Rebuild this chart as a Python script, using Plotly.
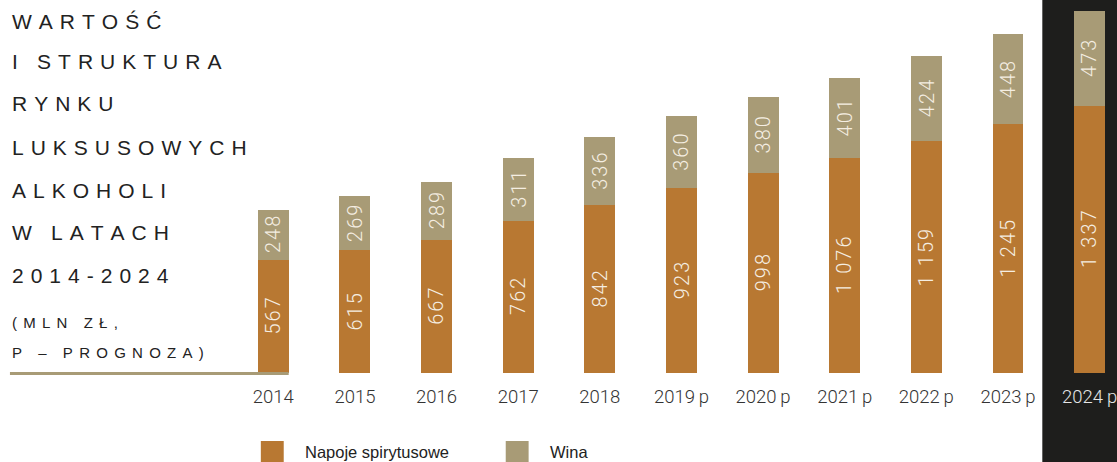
import plotly.graph_objects as go

# Market value of luxury alcohol in Poland, PLN mln (p = forecast)
years = ["2014", "2015", "2016", "2017", "2018", "2019 p", "2020 p",
         "2021 p", "2022 p", "2023 p", "2024 p"]
spirits = [567, 615, 667, 762, 842, 923, 998, 1076, 1159, 1245, 1337]
wines = [248, 269, 289, 311, 336, 360, 380, 401, 424, 448, 473]

title_lines = ["WARTOŚĆ", "I STRUKTURA", "RYNKU", "LUKSUSOWYCH",
               "ALKOHOLI", "W LATACH", "2014-2024"]
subtitle_lines = ["(MLN ZŁ,", "P – PROGNOZA)"]

ORANGE = "#B87832"
TAN = "#A89B76"
DARK = "#1E1E1C"
INK = "#222222"
NUM_FONT = "Roboto, Inter, sans-serif"
TXT_FONT = "Liberation Sans, Arial, sans-serif"

W, H = 1117, 462
PLOT_H = 373          # pixel height of plotting area (baseline row)
BOTTOM = H - PLOT_H


def spaced(s, gap):
    """Letter-spaced caption text."""
    return gap.join(ch if ch != " " else "\u2005" for ch in s)


def value_label(v):
    """Hair-spaced digits with a space as thousands separator."""
    s = f"{v:,}".replace(",", " ")
    return "\u200a".join("\u2005" if ch == " " else ch for ch in s)


x = list(range(len(years)))
fig = go.Figure()
fig.add_trace(go.Bar(x=x, y=spirits, marker=dict(color=ORANGE, line=dict(width=0)),
                     width=0.378, name="Napoje spirytusowe", showlegend=False))
fig.add_trace(go.Bar(x=x, y=wines, marker=dict(color=TAN, line=dict(width=0)),
                     width=0.378, name="Wina", showlegend=False))

annotations = []
# value labels, rotated, centred in each segment
for i, (s, w) in enumerate(zip(spirits, wines)):
    for base, v in ((0, s), (s, w)):
        annotations.append(dict(
            x=i, y=base + v / 2, xref="x", yref="y", text=value_label(v),
            textangle=-90, showarrow=False,
            font=dict(family=NUM_FONT, size=20, color="#F5EEE2", weight=300),
        ))

# heading block on the left
ty = [21, 61, 104, 147, 190, 232, 275]
for line, yy in zip(title_lines, ty):
    annotations.append(dict(
        x=10 / W, y=1 - yy / PLOT_H, xref="paper", yref="paper",
        xanchor="left", yanchor="middle", showarrow=False,
        text=spaced(line, "\u2005\u200a"),
        font=dict(family=TXT_FONT, size=21, color=INK),
    ))
for line, yy in zip(subtitle_lines, [322, 352]):
    annotations.append(dict(
        x=10 / W, y=1 - yy / PLOT_H, xref="paper", yref="paper",
        xanchor="left", yanchor="middle", showarrow=False,
        text=spaced(line, "\u2005\u200a\u200a"),
        font=dict(family=TXT_FONT, size=15, color=INK),
    ))

# legend
legend_items = [("Napoje spirytusowe", ORANGE, 262), ("Wina", TAN, 508)]
shapes = [
    # dark panel behind the final year
    dict(type="rect", xref="paper", yref="paper", x0=1047 / W, x1=1.01,
         y0=-(BOTTOM + 5) / PLOT_H, y1=1.01, fillcolor=DARK,
         line=dict(width=0), layer="below"),
    # baseline rule under the heading
    dict(type="line", xref="paper", yref="paper", x0=10 / W, x1=290 / W,
         y0=-0.5 / PLOT_H, y1=-0.5 / PLOT_H, line=dict(color=TAN, width=3),
         layer="above"),
]
for label, color, px in legend_items:
    shapes.append(dict(type="rect", xref="paper", yref="paper",
                       x0=px / W, x1=(px + 23) / W,
                       y0=1 - 466 / PLOT_H, y1=1 - 441 / PLOT_H,
                       fillcolor=color, line=dict(width=0)))
    annotations.append(dict(
        x=(px + 42) / W, y=1 - 452 / PLOT_H, xref="paper", yref="paper",
        xanchor="left", yanchor="middle", showarrow=False, text=label,
        font=dict(family=TXT_FONT, size=16.5, color=INK),
    ))

ticktext = [t.replace(" ", "\u2009") for t in years]
ticktext[-1] = f"<span style='color:#E6E6E6'>{ticktext[-1]}</span>"

PX_PER_CAT = 82
x0 = -274.5 / PX_PER_CAT
fig.update_layout(
    width=W, height=H, barmode="stack",
    margin=dict(l=0, r=0, t=0, b=BOTTOM, pad=0),
    paper_bgcolor="white", plot_bgcolor="rgba(0,0,0,0)",
    xaxis=dict(range=[x0, x0 + W / PX_PER_CAT], tickvals=x, ticktext=ticktext,
               showgrid=False, zeroline=False, showline=False, ticks="",
               tickfont=dict(family=NUM_FONT, size=18.5, color="#333333", weight=300),
               ticklabelstandoff=10, ticklabeloverflow="allow"),
    yaxis=dict(range=[0, PLOT_H / 0.2], visible=False, showgrid=False),
    shapes=shapes, annotations=annotations, showlegend=False,
)

fig.write_html("out.html")
